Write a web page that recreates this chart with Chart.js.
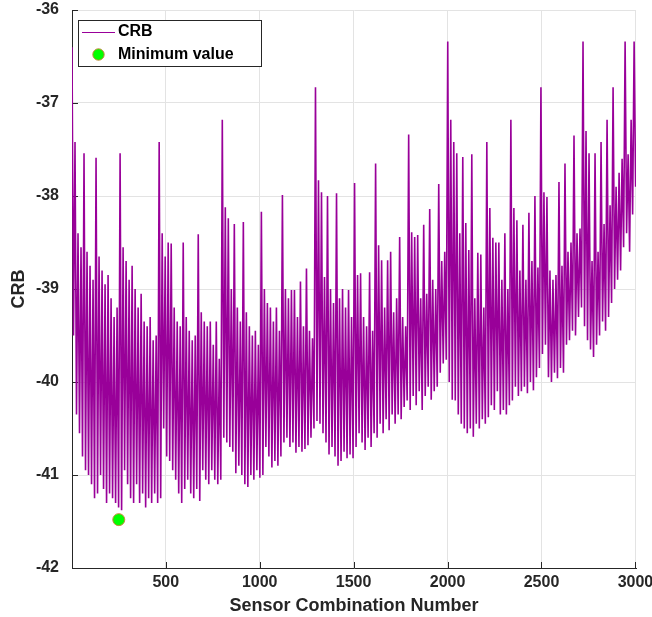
<!DOCTYPE html>
<html>
<head>
<meta charset="utf-8">
<title>CRB per sensor combination</title>
<script src="https://cdn.jsdelivr.net/npm/chart.js@4.4.1/dist/chart.umd.min.js"></script>
<style>
  html, body { margin: 0; padding: 0; background: #fff; }
  #wrap { width: 652px; height: 617px; position: relative; }
</style>
</head>
<body>
<div id="wrap"><canvas id="crb-chart" width="652" height="617"></canvas></div>
<script>
/*----- data -----*/
// the curve, one upper and one lower value every 16 combinations
const comboStep = 16
const peaks = [
  -36.40, -37.42, -38.40, -38.55, -37.54, -38.60, -38.75, -38.90, -37.59, -38.65,
  -38.80, -38.95, -38.85, -39.10, -39.30, -39.20, -37.54, -38.55, -38.70, -38.90,
  -38.75, -39.00, -39.20, -39.05, -39.35, -39.40, -39.30, -39.55, -39.50, -37.42,
  -38.40, -38.65, -38.50, -38.51, -39.20, -39.35, -39.40, -38.50, -39.30, -39.45,
  -39.55, -39.50, -38.41, -39.25, -39.35, -39.40, -39.35, -39.60, -39.35, -39.75,
  -37.18, -38.12, -38.24, -39.00, -38.30, -39.20, -39.35, -38.28, -39.25, -39.40,
  -39.50, -39.45, -39.60, -38.17, -39.00, -39.15, -39.20, -39.35, -39.20, -39.45,
  -37.99, -39.00, -39.10, -39.01, -39.01, -39.30, -38.92, -39.40, -38.78, -39.45,
  -39.53, -36.83, -37.83, -37.96, -38.87, -38.00, -39.00, -39.15, -37.97, -39.10,
  -39.00, -39.20, -39.01, -39.30, -37.86, -38.85, -38.83, -39.30, -39.40, -38.82,
  -39.45, -37.65, -38.53, -38.69, -39.20, -38.69, -38.60, -39.25, -39.10, -38.44,
  -39.30, -39.40, -37.34, -38.39, -38.44, -38.42, -39.10, -38.31, -39.05, -38.14,
  -38.90, -39.00, -37.87, -38.70, -38.60, -36.34, -37.18, -37.42, -37.54, -38.40,
  -37.58, -38.29, -38.58, -37.55, -39.10, -38.61, -38.63, -39.20, -37.42, -38.13,
  -38.45, -38.50, -38.50, -38.90, -38.40, -39.00, -37.18, -38.13, -38.26, -38.80,
  -38.31, -38.90, -38.18, -38.70, -38.00, -38.77, -36.83, -37.96, -38.01, -38.80,
  -38.90, -38.85, -37.85, -38.75, -37.65, -38.60, -38.50, -37.35, -38.40, -38.35,
  -36.34, -37.30, -37.54, -38.70, -37.54, -38.60, -37.42, -38.30, -37.18, -38.10,
  -36.83, -37.90, -37.75, -37.60, -36.34, -37.55, -37.18, -36.34
]
const dips = [
  -39.50, -40.35, -40.55, -40.80, -40.95, -41.00, -41.10, -41.25, -41.20, -41.00,
  -41.15, -41.30, -41.20, -41.25, -41.30, -41.35, -41.38, -40.95, -41.10, -41.25,
  -41.30, -41.10, -41.30, -41.20, -41.35, -41.25, -41.30, -41.20, -41.30, -41.25,
  -40.50, -40.80, -40.85, -40.95, -41.05, -41.20, -41.30, -41.15, -41.05, -41.20,
  -41.25, -41.15, -41.28, -40.95, -41.05, -41.10, -40.95, -41.05, -41.10, -41.05,
  -40.60, -40.65, -40.70, -40.75, -40.98, -40.90, -41.00, -41.10, -41.13, -41.00,
  -41.05, -40.95, -41.03, -41.00, -40.70, -40.80, -40.92, -40.85, -40.90, -40.80,
  -40.65, -40.60, -40.70, -40.65, -40.76, -40.70, -40.75, -40.72, -40.68, -40.60,
  -40.50, -40.42, -40.45, -40.55, -40.65, -40.78, -40.70, -40.80, -40.90, -40.85,
  -40.75, -40.82, -40.78, -40.82, -40.70, -40.55, -40.65, -40.73, -40.60, -40.70,
  -40.55, -40.60, -40.45, -40.55, -40.40, -40.52, -40.35, -40.45, -40.35, -40.40,
  -40.27, -40.20, -40.30, -40.15, -40.25, -40.10, -40.30, -40.15, -40.05, -40.19,
  -40.10, -40.05, -39.90, -39.80, -39.76, -40.00, -40.19, -40.20, -40.35, -40.45,
  -40.50, -40.55, -40.50, -40.59, -40.45, -40.50, -40.40, -40.45, -40.38, -40.25,
  -40.30, -40.10, -40.35, -40.30, -40.35, -40.25, -40.20, -40.05, -40.15, -40.10,
  -40.05, -40.12, -40.00, -40.09, -39.95, -39.85, -39.70, -39.60, -39.95, -40.00,
  -39.90, -39.96, -39.85, -39.90, -39.60, -39.55, -39.45, -39.50, -39.30, -39.20,
  -39.40, -39.55, -39.65, -39.73, -39.60, -39.50, -39.35, -39.45, -39.30, -39.15,
  -39.00, -38.90, -38.80, -38.55, -38.40, -38.60, -38.20, -37.90
]
const minCombo = 250
const minValue = -41.48
const xTicks = [500, 1000, 1500, 2000, 2500, 3000]
const yTicks = [-42, -41, -40, -39, -38, -37, -36]

/*----- constants -----*/
const purple = '#990099'
const axisColor = '#262626'
const gridColor = '#e3e3e3'
const boldFont = (size) => ({ family: 'Arial, "Liberation Sans", Helvetica, sans-serif', size: size, weight: 'bold' })

const crbPoints = []
peaks.forEach((p, i) => {
  crbPoints.push({ x: 1 + i * comboStep, y: p })
  crbPoints.push({ x: 1 + i * comboStep + comboStep / 2, y: dips[i] })
})

/*----- plugins -----*/
// matlab style: ticks pointing in, light box edge, legend box in the corner
const matlabLook = {
  id: 'matlabLook',
  beforeDatasetsDraw(chart) {
    const { ctx, chartArea: a, scales: { x, y } } = chart
    ctx.save()
    ctx.lineWidth = 1
    ctx.strokeStyle = gridColor
    ctx.beginPath()
    ctx.moveTo(a.right - 0.5, a.top)
    ctx.lineTo(a.right - 0.5, a.bottom)
    ctx.stroke()
    ctx.strokeStyle = axisColor
    ctx.beginPath()
    xTicks.forEach(v => {
      const px = Math.round(x.getPixelForValue(v)) + 0.5
      ctx.moveTo(px, a.bottom)
      ctx.lineTo(px, a.bottom - 6)
    })
    yTicks.forEach(v => {
      const py = Math.round(y.getPixelForValue(v)) + 0.5
      ctx.moveTo(a.left, py)
      ctx.lineTo(a.left + 6, py)
    })
    ctx.stroke()
    ctx.restore()
  },
  afterDatasetsDraw(chart) {
    const ctx = chart.ctx
    ctx.save()
    ctx.fillStyle = '#fff'
    ctx.fillRect(78, 20, 184, 47)
    ctx.strokeStyle = axisColor
    ctx.lineWidth = 1
    ctx.strokeRect(78.5, 20.5, 183, 46)
    ctx.strokeStyle = purple
    ctx.beginPath()
    ctx.moveTo(82, 32.5)
    ctx.lineTo(115, 32.5)
    ctx.stroke()
    ctx.fillStyle = '#00ff00'
    ctx.strokeStyle = '#c8893c'
    ctx.beginPath()
    ctx.arc(98.5, 54.5, 5.7, 0, Math.PI * 2)
    ctx.fill()
    ctx.stroke()
    ctx.fillStyle = '#000'
    ctx.font = 'bold 16px Arial, "Liberation Sans", sans-serif'
    ctx.textBaseline = 'middle'
    ctx.fillText('CRB', 118, 32)
    ctx.fillText('Minimum value', 118, 54.5)
    ctx.restore()
  }
}

/*----- chart -----*/
const crbCanvas = document.getElementById('crb-chart')
new Chart(crbCanvas, {
  type: 'line',
  data: {
    datasets: [
      {
        label: 'Minimum value',
        type: 'scatter',
        data: [{ x: minCombo, y: minValue }],
        backgroundColor: '#00ff00',
        borderColor: '#c8893c',
        borderWidth: 1,
        pointRadius: 6,
        order: 0
      },
      {
        label: 'CRB',
        data: crbPoints,
        borderColor: purple,
        borderWidth: 1.6,
        pointRadius: 0,
        tension: 0,
        fill: false,
        order: 1
      }
    ]
  },
  options: {
    responsive: false,
    animation: false,
    events: [],
    layout: { padding: { top: 10, right: 16, left: 0, bottom: 0 } },
    plugins: { legend: { display: false }, tooltip: { enabled: false } },
    scales: {
      x: {
        type: 'linear',
        min: 1,
        max: 3003,
        afterBuildTicks: (scale) => { scale.ticks = xTicks.map(v => ({ value: v })) },
        afterFit: (scale) => { scale.height = 49; scale.paddingLeft = 0; scale.paddingRight = 0 },
        ticks: { font: boldFont(16), color: axisColor, padding: 5, maxRotation: 0, autoSkip: false, callback: (v) => String(v) },
        grid: { color: gridColor, drawTicks: false },
        border: { color: axisColor, width: 1 },
        title: { display: true, text: 'Sensor Combination Number', font: boldFont(18), color: axisColor, padding: { top: 0, bottom: 0 } }
      },
      y: {
        min: -42,
        max: -36,
        afterBuildTicks: (scale) => { scale.ticks = yTicks.map(v => ({ value: v })) },
        afterFit: (scale) => { scale.width = 72; scale.paddingTop = 0; scale.paddingBottom = 0 },
        ticks: { font: boldFont(16), color: axisColor, padding: 13, callback: (v) => String(v) },
        grid: { color: gridColor, drawTicks: false },
        border: { color: axisColor, width: 1 },
        title: { display: true, text: 'CRB', font: boldFont(18), color: axisColor, padding: { top: 8, bottom: 0 } }
      }
    }
  },
  plugins: [matlabLook]
})
</script>
</body>
</html>
